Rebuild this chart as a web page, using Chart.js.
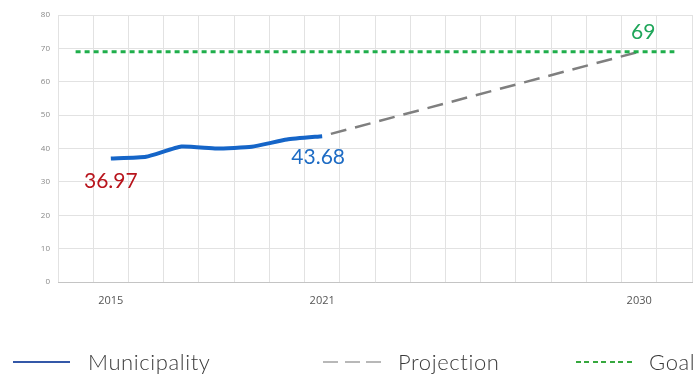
<!DOCTYPE html>
<html>
<head>
<meta charset="utf-8">
<script src="https://cdn.jsdelivr.net/npm/chart.js@4.4.0/dist/chart.umd.min.js"></script>
<style>
html, body { margin: 0; padding: 0; background: #fff; }
#wrap { position: relative; width: 697px; height: 376px; overflow: hidden; }
#legend { position: absolute; left: 0; top: 0; width: 697px; height: 376px; pointer-events: none;
  font-family: Lato, "Open Sans", sans-serif; font-weight: 300; font-size: 22px; color: #3a3a3a;
  letter-spacing: 0.6px; }
.mark { position: absolute; top: 361px; height: 2px; }
.txt { position: absolute; top: 349px; white-space: nowrap; line-height: 26px; }
</style>
</head>
<body>
<div id="wrap">
  <canvas id="myChart" width="697" height="376"></canvas>
  <div id="legend">
    <div class="mark" style="left:13px;width:57px;background:#3458a8;"></div>
    <div class="txt" style="left:88px;">Municipality</div>
    <div class="mark" style="left:323px;width:58px;background:repeating-linear-gradient(to right,#b8b8b8 0 15px,transparent 15px 21.5px);"></div>
    <div class="txt" style="left:398px;">Projection</div>
    <div class="mark" style="left:576px;width:57px;background:repeating-linear-gradient(to right,#36a83e 0 5px,transparent 5px 8.5px);"></div>
    <div class="txt" style="left:649px;">Goal</div>
  </div>
</div>
<script>
const years = ['2014','2015','2016','2017','2018','2019','2020','2021','2022',
               '2023','2024','2025','2026','2027','2028','2029','2030','2031'];
const shownYears = ['2015', '2021', '2030'];

const muniYears = ['2015','2016','2017','2018','2019','2020','2021'];
const muniValues = [36.97, 37.5, 40.6, 40.0, 40.5, 42.7, 43.68];

const projYears = ['2021', '2030'];
const projValues = [43.68, 69];

const goalYears = ['2014', '2031'];
const goalValues = [69, 69];

const yTicks = [0, 10, 20, 30, 40, 50, 60, 70, 80];

function points(xs, ys) {
    return xs.map((x, i) => ({ x: x, y: ys[i] }));
}

// value labels next to chosen points
const valueLabels = {
    id: 'valueLabels',
    afterDatasetsDraw(chart) {
        const ctx = chart.ctx;
        const xs = chart.scales.x, ys = chart.scales.y;
        const items = [
            { year: '2015', v: 36.97, text: '36.97', color: '#b8141c', dx: 0, dy: 23 },
            { year: '2021', v: 43.68, text: '43.68', color: '#1e6cc4', dx: -4, dy: 21 },
            { year: '2030', v: 69, text: '69', color: '#1fa65a', dx: 4, dy: -19 }
        ];
        ctx.save();
        ctx.font = '21px Lato, "Open Sans", sans-serif';
        ctx.textAlign = 'center';
        ctx.textBaseline = 'middle';
        items.forEach(it => {
            ctx.fillStyle = it.color;
            ctx.fillText(it.text, xs.getPixelForValue(years.indexOf(it.year)) + it.dx,
                         ys.getPixelForValue(it.v) + it.dy);
        });
        ctx.restore();
    }
};

const myChart = document.getElementById('myChart');

new Chart(myChart, {
    type: 'line',
    data: {
        labels: years,
        datasets: [{
            label: 'Goal',
            data: points(goalYears, goalValues),
            borderColor: '#1fae4b',
            borderWidth: 3,
            borderDash: [5, 4],
            pointRadius: 0,
            spanGaps: true
        }, {
            label: 'Projection',
            data: points(projYears, projValues),
            borderColor: '#7f7f7f',
            borderWidth: 2.5,
            borderDash: [16, 9],
            borderDashOffset: 16,
            pointRadius: 0,
            spanGaps: true
        }, {
            label: 'Municipality',
            data: points(muniYears, muniValues),
            borderColor: '#1565c8',
            borderWidth: 4,
            tension: 0.15,
            pointRadius: 0
        }]
    },
    options: {
        responsive: false,
        animation: false,
        layout: { padding: { top: 15, right: 5, bottom: 64, left: 0 } },
        plugins: {
            legend: { display: false },
            tooltip: { enabled: false }
        },
        scales: {
            x: {
                offset: true,
                grid: { offset: true, color: '#e2e2e2', drawTicks: false },
                border: { color: '#c4c4c4' },
                ticks: {
                    autoSkip: false,
                    maxRotation: 0,
                    padding: 12,
                    color: '#555',
                    font: { family: '"Open Sans", sans-serif', size: 11 },
                    callback: (v, i) => shownYears.includes(years[i]) ? years[i] : ''
                },
                afterFit: (scale) => { scale.height = 30; }
            },
            y: {
                min: 0,
                max: 80,
                afterBuildTicks: (scale) => { scale.ticks = yTicks.map(v => ({ value: v })); },
                grid: { color: '#e2e2e2', drawTicks: false },
                border: { display: false },
                ticks: {
                    padding: 8,
                    color: '#888',
                    font: { family: '"Open Sans", sans-serif', size: 8 }
                },
                afterFit: (scale) => { scale.width = 58; }
            }
        }
    },
    plugins: [valueLabels]
});
</script>
</body>
</html>
